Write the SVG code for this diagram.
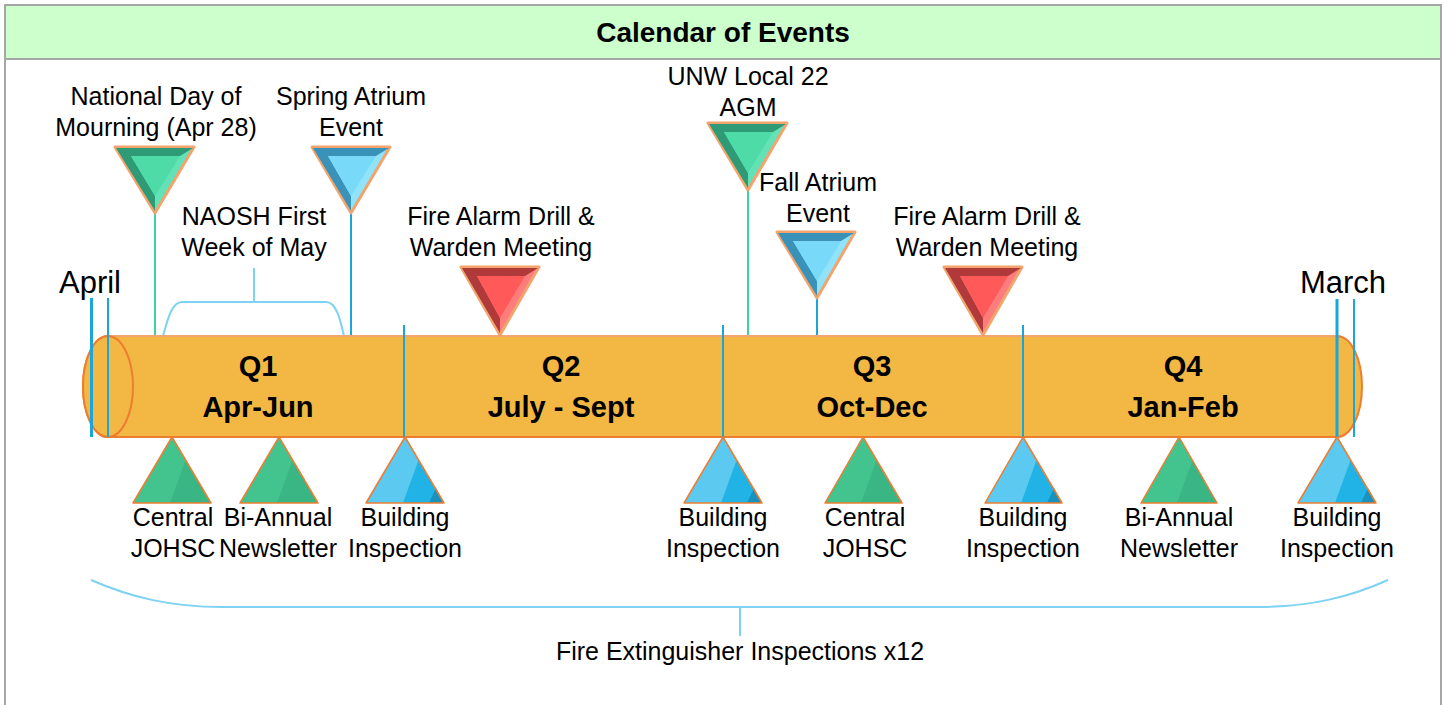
<svg xmlns="http://www.w3.org/2000/svg" width="1447" height="705" viewBox="0 0 1447 705">
<style>
.t{font-family:"Liberation Sans",Arial,sans-serif;font-size:25px;fill:#000;text-anchor:middle}
.q{font-family:"Liberation Sans",Arial,sans-serif;font-size:29px;font-weight:bold;fill:#000;text-anchor:middle}
.m{font-family:"Liberation Sans",Arial,sans-serif;font-size:31px;fill:#000;text-anchor:middle}
.title{font-family:"Liberation Sans",Arial,sans-serif;font-size:28px;font-weight:bold;fill:#000;text-anchor:middle}
.ob{stroke:#F2A46C;stroke-width:3;stroke-linejoin:round}
.gl{fill:#62E2B6}.gd{fill:#2E9A76}.gm{fill:#4EDBA8}
.bl{fill:#8FE3FA}.bd{fill:#3A92B8}.bm{fill:#78DAF8}
.rl{fill:#FF7C7C}.rd{fill:#B03A3A}.rm{fill:#FF5959}
.up{stroke:#ED7D31;stroke-width:1.5;stroke-linejoin:round}
.ug{fill:#43C48F}.ug2{fill:#3AB584}
.ub{fill:#5CC9F0}.ub2{fill:#22B3E6}.ub3{fill:#1A92BE}
.vl{stroke:#1BA6DA;fill:none}
.gline{stroke:#3ED39D;stroke-width:2;fill:none}
.bline{stroke:#1BA6DA;stroke-width:2;fill:none}
.br{stroke:#7DD3F1;stroke-width:2;fill:none}
</style>
<rect x="0" y="0" width="1447" height="705" fill="#fff"/>
<g id="frame">
<rect x="5" y="5" width="1436" height="54" fill="#CCFFCC"/>
<rect x="5" y="5" width="1436" height="720" fill="none" stroke="#A6A6A6" stroke-width="2"/>
<line x1="5" y1="59" x2="1441" y2="59" stroke="#A6A6A6" stroke-width="2"/>
<text class="title" x="723" y="42">Calendar of Events</text>
</g>
<g id="connectors">
<line class="gline" x1="155" y1="212" x2="155" y2="336"/>
<line class="bline" x1="351" y1="212" x2="351" y2="336"/>
<line class="gline" x1="748" y1="189" x2="748" y2="336"/>
<line class="bline" x1="817" y1="297" x2="817" y2="336"/>
<path class="br" d="M163,336 C168,318 172,302 182,302 H326 C336,302 340,318 344,336"/>
<line class="br" x1="254" y1="302" x2="254" y2="268"/>
<path class="br" d="M91,580 C130,597 170,607 222,607 H1258 C1310,607 1350,597 1388,580"/>
<line class="br" x1="740" y1="607" x2="740" y2="636"/>
</g>
<g id="timeline">
<path d="M108,336 H1337 A25,50.5 0 0 1 1337,437 H108 A25,50.5 0 0 1 108,336 Z" fill="#F2B843" stroke="#ED7D31" stroke-width="2"/>
<line x1="108" y1="336" x2="1337" y2="336" stroke="#F4A574" stroke-width="2"/>
<ellipse cx="108" cy="386.5" rx="25" ry="50.5" fill="#F2B843" stroke="#ED7D31" stroke-width="2"/>
<line class="vl" x1="91.5" y1="298" x2="91.5" y2="437" stroke-width="3"/>
<line class="vl" x1="108" y1="298" x2="108" y2="437" stroke-width="2"/>
<line class="vl" x1="1337" y1="299" x2="1337" y2="437" stroke-width="3"/>
<line class="vl" x1="1354" y1="299" x2="1354" y2="437" stroke-width="2"/>
<line class="vl" x1="404" y1="325" x2="404" y2="437" stroke-width="2"/>
<line class="vl" x1="723" y1="325" x2="723" y2="437" stroke-width="2"/>
<line class="vl" x1="1023" y1="325" x2="1023" y2="437" stroke-width="2"/>
<text class="m" x="90" y="293">April</text>
<text class="m" x="1343" y="293">March</text>
<text class="q" x="258" y="376">Q1</text>
<text class="q" x="258" y="417">Apr-Jun</text>
<text class="q" x="561" y="376">Q2</text>
<text class="q" x="561" y="417">July - Sept</text>
<text class="q" x="872" y="376">Q3</text>
<text class="q" x="872" y="417">Oct-Dec</text>
<text class="q" x="1183" y="376">Q4</text>
<text class="q" x="1183" y="417">Jan-Feb</text>
</g>
<g id="national-day">
<polygon class="gl ob" points="115,147 194,147 155,213"/>
<polygon class="gd" points="116,148 193,148 180,156 131,156 155,196 155,211"/>
<polygon class="gm" points="131,156 180,156 155,196"/>
<text class="t" x="156" y="105">National Day of</text>
<text class="t" x="156" y="136">Mourning (Apr 28)</text>
</g>
<g id="spring-atrium">
<polygon class="bl ob" points="312,147 390,147 351,213"/>
<polygon class="bd" points="313,148 389,148 376,156 328,156 351,196 351,211"/>
<polygon class="bm" points="328,156 376,156 351,196"/>
<text class="t" x="351" y="105">Spring Atrium</text>
<text class="t" x="351" y="136">Event</text>
</g>
<g id="naosh">
<text class="t" x="254" y="225">NAOSH First</text>
<text class="t" x="254" y="256">Week of May</text>
</g>
<g id="fire-q2">
<polygon class="rl ob" points="461,267 539,267 500,335"/>
<polygon class="rd" points="462,268 538,268 525,276 477,276 500,318 500,333"/>
<polygon class="rm" points="477,276 525,276 500,318"/>
<text class="t" x="501" y="225">Fire Alarm Drill &amp;</text>
<text class="t" x="501" y="256">Warden Meeting</text>
</g>
<g id="unw-agm">
<polygon class="gl ob" points="708,123 787,123 748,190"/>
<polygon class="gd" points="709,124 786,124 773,132 724,132 748,173 748,188"/>
<polygon class="gm" points="724,132 773,132 748,173"/>
<text class="t" x="748" y="85">UNW Local 22</text>
<text class="t" x="748" y="116">AGM</text>
</g>
<g id="fall-atrium">
<polygon class="bl ob" points="777,232 855,232 817,298"/>
<polygon class="bd" points="778,233 854,233 841,241 793,241 817,281 817,296"/>
<polygon class="bm" points="793,241 841,241 817,281"/>
<text class="t" x="818" y="191">Fall Atrium</text>
<text class="t" x="818" y="222">Event</text>
</g>
<g id="fire-q3">
<polygon class="rl ob" points="944,267 1022,267 983,335"/>
<polygon class="rd" points="945,268 1021,268 1008,276 960,276 983,318 983,333"/>
<polygon class="rm" points="960,276 1008,276 983,318"/>
<text class="t" x="987" y="225">Fire Alarm Drill &amp;</text>
<text class="t" x="987" y="256">Warden Meeting</text>
</g>
<g id="central-johsc-1">
<polygon class="ug" points="172,437 133,503 211,503"/>
<polygon class="ug2" points="185.6,460 170,503 211,503"/>
<polygon class="up" fill="none" points="172,437 133,503 211,503"/>
<text class="t" x="173" y="526">Central</text>
<text class="t" x="173" y="557">JOHSC</text>
</g>
<g id="newsletter-1">
<polygon class="ug" points="279,437 240,503 318,503"/>
<polygon class="ug2" points="292.6,460 277,503 318,503"/>
<polygon class="up" fill="none" points="279,437 240,503 318,503"/>
<text class="t" x="278" y="526">Bi-Annual</text>
<text class="t" x="278" y="557">Newsletter</text>
</g>
<g id="building-1">
<polygon class="ub" points="405,437 366,503 444,503"/>
<polygon class="ub2" points="418.6,460 403,503 444,503"/>
<polygon class="ub3" points="436,488 429,503 444,503"/>
<polygon class="up" fill="none" points="405,437 366,503 444,503"/>
<text class="t" x="405" y="526">Building</text>
<text class="t" x="405" y="557">Inspection</text>
</g>
<g id="building-2">
<polygon class="ub" points="723,437 684,503 762,503"/>
<polygon class="ub2" points="736.6,460 721,503 762,503"/>
<polygon class="ub3" points="754,488 747,503 762,503"/>
<polygon class="up" fill="none" points="723,437 684,503 762,503"/>
<text class="t" x="723" y="526">Building</text>
<text class="t" x="723" y="557">Inspection</text>
</g>
<g id="central-johsc-2">
<polygon class="ug" points="863,437 825,503 902,503"/>
<polygon class="ug2" points="876.6,460 861,503 902,503"/>
<polygon class="up" fill="none" points="863,437 825,503 902,503"/>
<text class="t" x="865" y="526">Central</text>
<text class="t" x="865" y="557">JOHSC</text>
</g>
<g id="building-3">
<polygon class="ub" points="1023,437 985,503 1062,503"/>
<polygon class="ub2" points="1036.6,460 1021,503 1062,503"/>
<polygon class="ub3" points="1054,488 1047,503 1062,503"/>
<polygon class="up" fill="none" points="1023,437 985,503 1062,503"/>
<text class="t" x="1023" y="526">Building</text>
<text class="t" x="1023" y="557">Inspection</text>
</g>
<g id="newsletter-2">
<polygon class="ug" points="1179,437 1141,503 1217,503"/>
<polygon class="ug2" points="1192.6,460 1177,503 1217,503"/>
<polygon class="up" fill="none" points="1179,437 1141,503 1217,503"/>
<text class="t" x="1179" y="526">Bi-Annual</text>
<text class="t" x="1179" y="557">Newsletter</text>
</g>
<g id="building-4">
<polygon class="ub" points="1337,437 1298,503 1376,503"/>
<polygon class="ub2" points="1350.6,460 1335,503 1376,503"/>
<polygon class="ub3" points="1368,488 1361,503 1376,503"/>
<polygon class="up" fill="none" points="1337,437 1298,503 1376,503"/>
<text class="t" x="1337" y="526">Building</text>
<text class="t" x="1337" y="557">Inspection</text>
</g>
<g id="fire-extinguisher">
<text class="t" x="740" y="660">Fire Extinguisher Inspections x12</text>
</g>
</svg>
